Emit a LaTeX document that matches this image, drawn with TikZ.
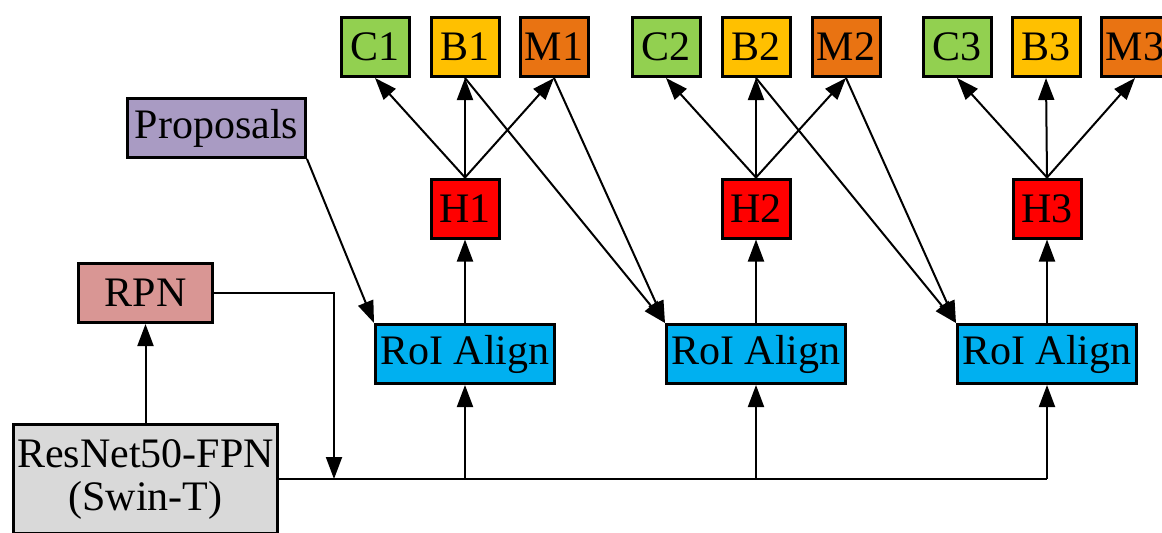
\documentclass[tikz,border=0pt]{standalone}
\usepackage{fontspec}
\setmainfont{Liberation Serif}
\usetikzlibrary{arrows.meta}
\definecolor{cgreen}{HTML}{92D050}
\definecolor{byellow}{HTML}{FFC000}
\definecolor{morange}{HTML}{E97312}
\definecolor{hred}{HTML}{FF0000}
\definecolor{roiblue}{HTML}{00B0F0}
\definecolor{rpnpink}{HTML}{D99694}
\definecolor{proppurple}{HTML}{A99BC3}
\definecolor{resgray}{HTML}{D9D9D9}
\tikzset{
  box/.style={draw=black, line width=1.5pt, inner sep=0pt, align=center,
    font=\fontsize{21}{21.5}\selectfont},
  small/.style={box, minimum width=34pt, minimum height=29.5pt},
  roi/.style={box, fill=roiblue, minimum width=89.5pt, minimum height=29.5pt},
  arr/.style={line width=1pt, -{Triangle[length=11pt,width=8pt]}},
  ln/.style={line width=1pt}
}
\begin{document}
\begin{tikzpicture}[x=0.5pt,y=-0.5pt]
\useasboundingbox (0,0) rectangle (1162,532);
% top row
\node[small, fill=cgreen] (c1) at (375,47) {C1};
\node[small, fill=byellow] (b1) at (465,47) {B1};
\node[small, fill=morange] (m1) at (554,47) {M1};
\node[small, fill=cgreen] (c2) at (666,47) {C2};
\node[small, fill=byellow] (b2) at (756,47) {B2};
\node[small, fill=morange] (m2) at (846,47) {M2};
\node[small, fill=cgreen] (c3) at (957,47) {C3};
\node[small, fill=byellow] (b3) at (1046,47) {B3};
\node[small, fill=morange] (m3) at (1135,47) {M3};
% heads
\node[small, fill=hred] (h1) at (465,208.5) {H1};
\node[small, fill=hred] (h2) at (756,208.5) {H2};
\node[small, fill=hred] (h3) at (1047,208.5) {H3};
% RoI Align
\node[roi] (r1) at (465,354) {RoI Align};
\node[roi] (r2) at (756,354) {RoI Align};
\node[roi] (r3) at (1047,354) {RoI Align};
% left side
\node[box, fill=proppurple, minimum width=89pt, minimum height=29.5pt] (prop) at (216.5,128) {Proposals};
\node[box, fill=rpnpink, minimum width=67pt, minimum height=29.5pt] (rpn) at (145.5,293) {RPN};
\node[box, fill=resgray, minimum width=132pt, minimum height=54.5pt] (res) at (145.5,479) {ResNet50-FPN\\(Swin-T)};
% coordinates
\coordinate (rc) at (334,293);
\coordinate (rb) at (334,479);
\coordinate (j1) at (465,479);
\coordinate (j2) at (756,479);
\coordinate (j3) at (1047,479);
% connectors
\draw[arr] (res.north) -- (rpn.south);
\draw[arr] (rpn.east) -- (rc) -- (rb);
\draw[ln] (res.east |- rb) -- (j3);
\draw[arr] (j1) -- (r1.south);
\draw[arr] (j2) -- (r2.south);
\draw[arr] (j3) -- (r3.south);
\draw[arr] (r1.north) -- (h1.south);
\draw[arr] (r2.north) -- (h2.south);
\draw[arr] (r3.north) -- (h3.south);
\foreach \i in {1,2,3}{
  \draw[arr] (h\i.north) -- (c\i.south);
  \draw[arr] (h\i.north) -- (b\i.south);
  \draw[arr] (h\i.north) -- (m\i.south);
}
\draw[arr] (prop.south east) -- (r1.north west);
\draw[arr] (b1.south) -- (r2.north west);
\draw[arr] (m1.south) -- (r2.north west);
\draw[arr] (b2.south) -- (r3.north west);
\draw[arr] (m2.south) -- (r3.north west);
\end{tikzpicture}
\end{document}
